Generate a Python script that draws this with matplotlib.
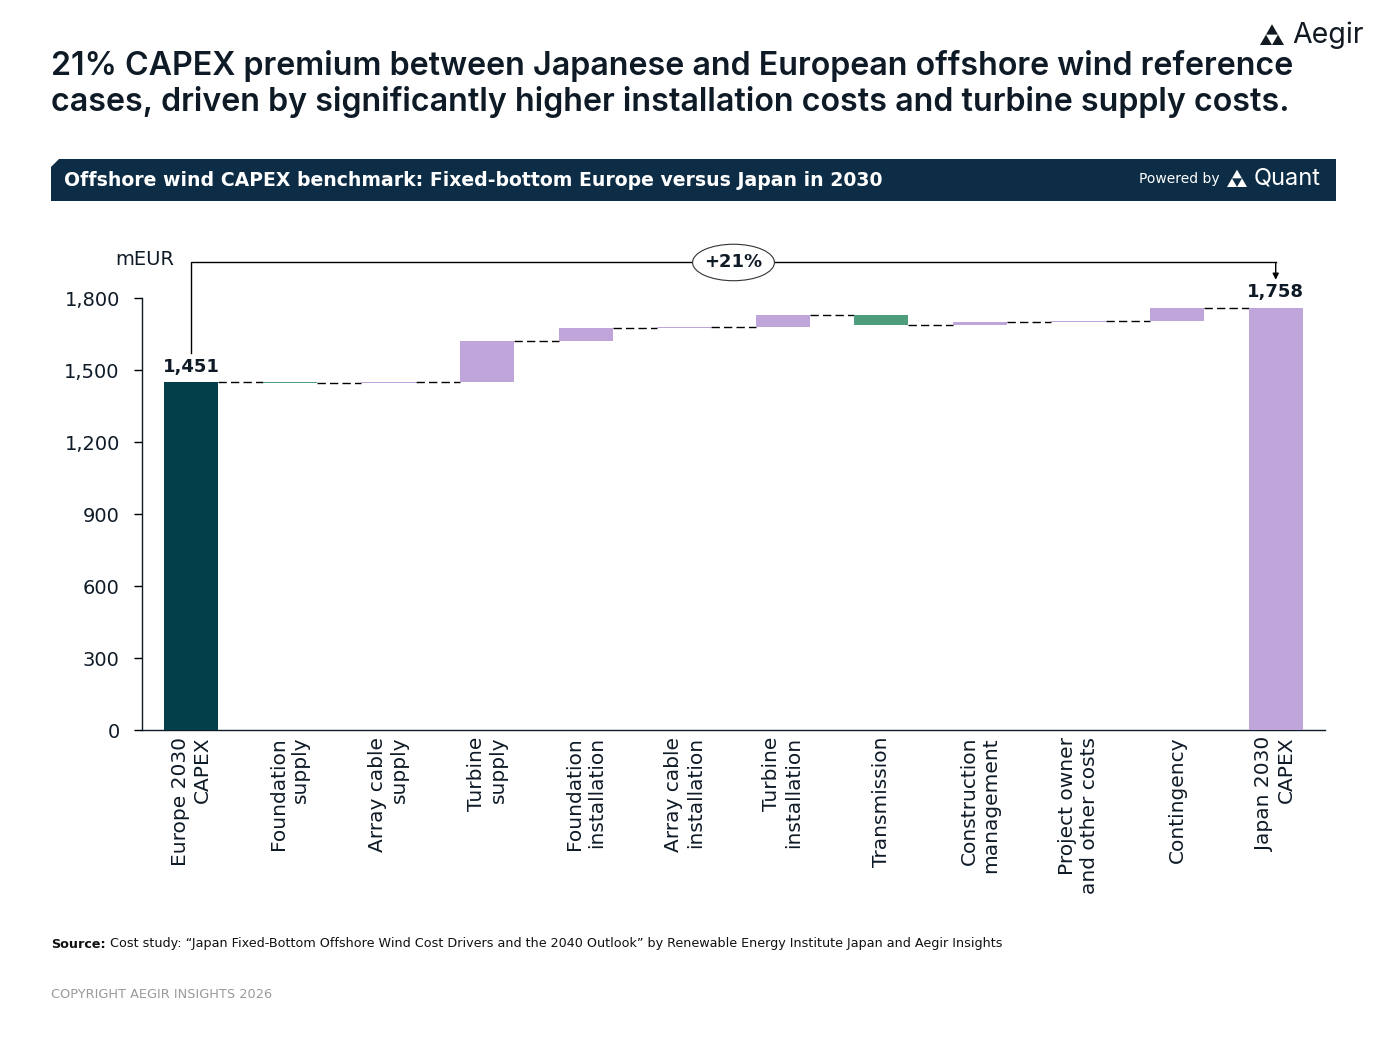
import matplotlib
matplotlib.use("Agg")
import matplotlib.pyplot as plt
from matplotlib.patches import Ellipse, Polygon

plt.rcParams['font.family'] = ['DejaVu Sans']

# data
categories = ["Europe 2030\nCAPEX", "Foundation\nsupply", "Array cable\nsupply",
              "Turbine\nsupply", "Foundation\ninstallation", "Array cable\ninstallation",
              "Turbine\ninstallation", "Transmission", "Construction\nmanagement",
              "Project owner\nand other costs", "Contingency", "Japan 2030\nCAPEX"]
start_total = 1451
end_total = 1758
deltas = [-6, 7, 168, 54, 4, 50, -42, 12, 8, 52]
yticks = [0, 300, 600, 900, 1200, 1500, 1800]

DARK = "#033F4A"
PURPLE = "#BFA5DA"
GREEN = "#4E9E7E"
NAVY = "#0D2D47"
TXT = "#0E1A26"
INTER = ['Inter', 'DejaVu Sans']

W, H = 1387, 1040
fig = plt.figure(figsize=(W / 100, H / 100), dpi=100)


def fx(px):
    return px / W


def fy(py):
    return 1 - py / H


ax = fig.add_axes([fx(142), fy(730), fx(1325) - fx(142), fy(298) - fy(730)])

bw = 0.55
# totals
ax.bar(0, start_total, width=bw, color=DARK, zorder=3)
ax.bar(len(categories) - 1, end_total, width=bw, color=PURPLE, zorder=3)

level = start_total
levels = [level]
for i, d in enumerate(deltas, start=1):
    bottom = min(level, level + d)
    ax.bar(i, abs(d), bottom=bottom, width=bw, color=PURPLE if d > 0 else GREEN, zorder=3)
    level += d
    levels.append(level)

# dashed connectors
for i, lv in enumerate(levels):
    ax.plot([i + bw / 2, i + 1 - bw / 2], [lv, lv], color="black", lw=1,
            dashes=(6, 3), zorder=2)

# value labels on totals
ax.annotate(f"{start_total:,}", (0, start_total), xytext=(0, 4), textcoords="offset points",
            ha="center", va="bottom", fontsize=13, fontweight="bold", color=TXT)
ax.annotate(f"{end_total:,}", (len(categories) - 1, end_total), xytext=(0, 5),
            textcoords="offset points", ha="center", va="bottom", fontsize=13,
            fontweight="bold", color=TXT)

# bracket with +21%
last = len(categories) - 1
top = end_total + 190
ax.plot([0, 0, last], [start_total + 120, top, top], color="black", lw=1,
        clip_on=False, zorder=4)
ax.annotate("", xy=(last, end_total + 118), xytext=(last, top),
            arrowprops=dict(arrowstyle="-|>", lw=1, color="black", shrinkA=0, shrinkB=0,
                            mutation_scale=9), annotation_clip=False)
pct = (end_total / start_total - 1) * 100
ax.add_patch(Ellipse((last / 2, top), 0.83, 152, facecolor="white", edgecolor="#333333",
                     lw=0.8, clip_on=False, zorder=5))
ax.text(last / 2, top, f"+{pct:.0f}%", ha="center", va="center", fontsize=13,
        fontweight="bold", color=TXT, zorder=6)

# axes styling
ax.set_xlim(-0.5, len(categories) - 0.5)
ax.set_ylim(0, 1800)
ax.set_yticks(yticks)
ax.set_yticklabels([f"{v:,}" for v in yticks])
ax.set_xticks(range(len(categories)))
ax.set_xticklabels(categories, rotation=90, linespacing=1.2)
for lbl in ax.get_xticklabels():
    lbl.set_multialignment("right")
ax.tick_params(axis="x", length=0, pad=5, labelsize=14.5, labelcolor=TXT)
ax.tick_params(axis="y", length=6, width=1, pad=10, labelsize=14, labelcolor=TXT)
for s in ["top", "right"]:
    ax.spines[s].set_visible(False)
for s in ["left", "bottom"]:
    ax.spines[s].set_linewidth(1)
    ax.spines[s].set_color(TXT)
ax.text(0.027, 1.09, "mEUR", transform=ax.transAxes, ha="right", va="center",
        fontsize=14, color=TXT)

# title
fig.text(fx(51), fy(84), "21% CAPEX premium between Japanese and European offshore wind reference\n"
         "cases, driven by significantly higher installation costs and turbine supply costs.",
         ha="left", va="center", fontsize=23.2, fontweight="semibold", color=TXT,
         linespacing=1.12, family=INTER)


def logo(cx, base, s, color):
    # three triangles forming a larger triangle
    h = s * 0.866
    tris = [
        [(cx - s, base), (cx, base), (cx - s / 2, base - h)],
        [(cx, base), (cx + s, base), (cx + s / 2, base - h)],
        [(cx - s / 2, base - h), (cx + s / 2, base - h), (cx, base - 2 * h)],
    ]
    for t in tris:
        fig.patches.append(Polygon([(fx(x), fy(y)) for x, y in t], closed=True,
                                   transform=fig.transFigure, facecolor=color,
                                   edgecolor="none"))


# Aegir logo
logo(1272, 45, 12, "#111A22")
fig.text(fx(1292), fy(35), "Aegir", ha="left", va="center", fontsize=20.5, color="#111A22",
         family=INTER)

# banner
c = 8
fig.patches.append(Polygon([(fx(51), fy(159 + c)), (fx(51 + c), fy(159)), (fx(1336), fy(159)),
                            (fx(1336), fy(201)), (fx(51), fy(201))], closed=True,
                           transform=fig.transFigure, facecolor=NAVY, edgecolor="none"))
fig.text(fx(64), fy(181), "Offshore wind CAPEX benchmark: Fixed-bottom Europe versus Japan in 2030",
         ha="left", va="center", fontsize=13.6, fontweight="bold", color="white")
fig.text(fx(1220), fy(179), "Powered by", ha="right", va="center", fontsize=10, color="white")
logo(1237, 187, 10, "white")
fig.text(fx(1254), fy(179), "Quant", ha="left", va="center", fontsize=17, color="white",
         family=INTER)

# footer
src = fig.text(fx(51), fy(944), "Source:", ha="left", va="center", fontsize=9.2,
               fontweight="bold", color="#111111")
fig.canvas.draw()
bb = src.get_window_extent()
fig.text((bb.x1 + 4) / W, fy(944),
         "Cost study: \u201cJapan Fixed-Bottom Offshore Wind Cost Drivers and the 2040 Outlook\u201d by Renewable Energy Institute Japan and Aegir Insights",
         ha="left", va="center", fontsize=9.2, color="#111111")
fig.text(fx(51), fy(994), "COPYRIGHT AEGIR INSIGHTS 2026", ha="left", va="center",
         fontsize=9.3, color="#9A9A9A")

fig.savefig("out.png", dpi=100)
